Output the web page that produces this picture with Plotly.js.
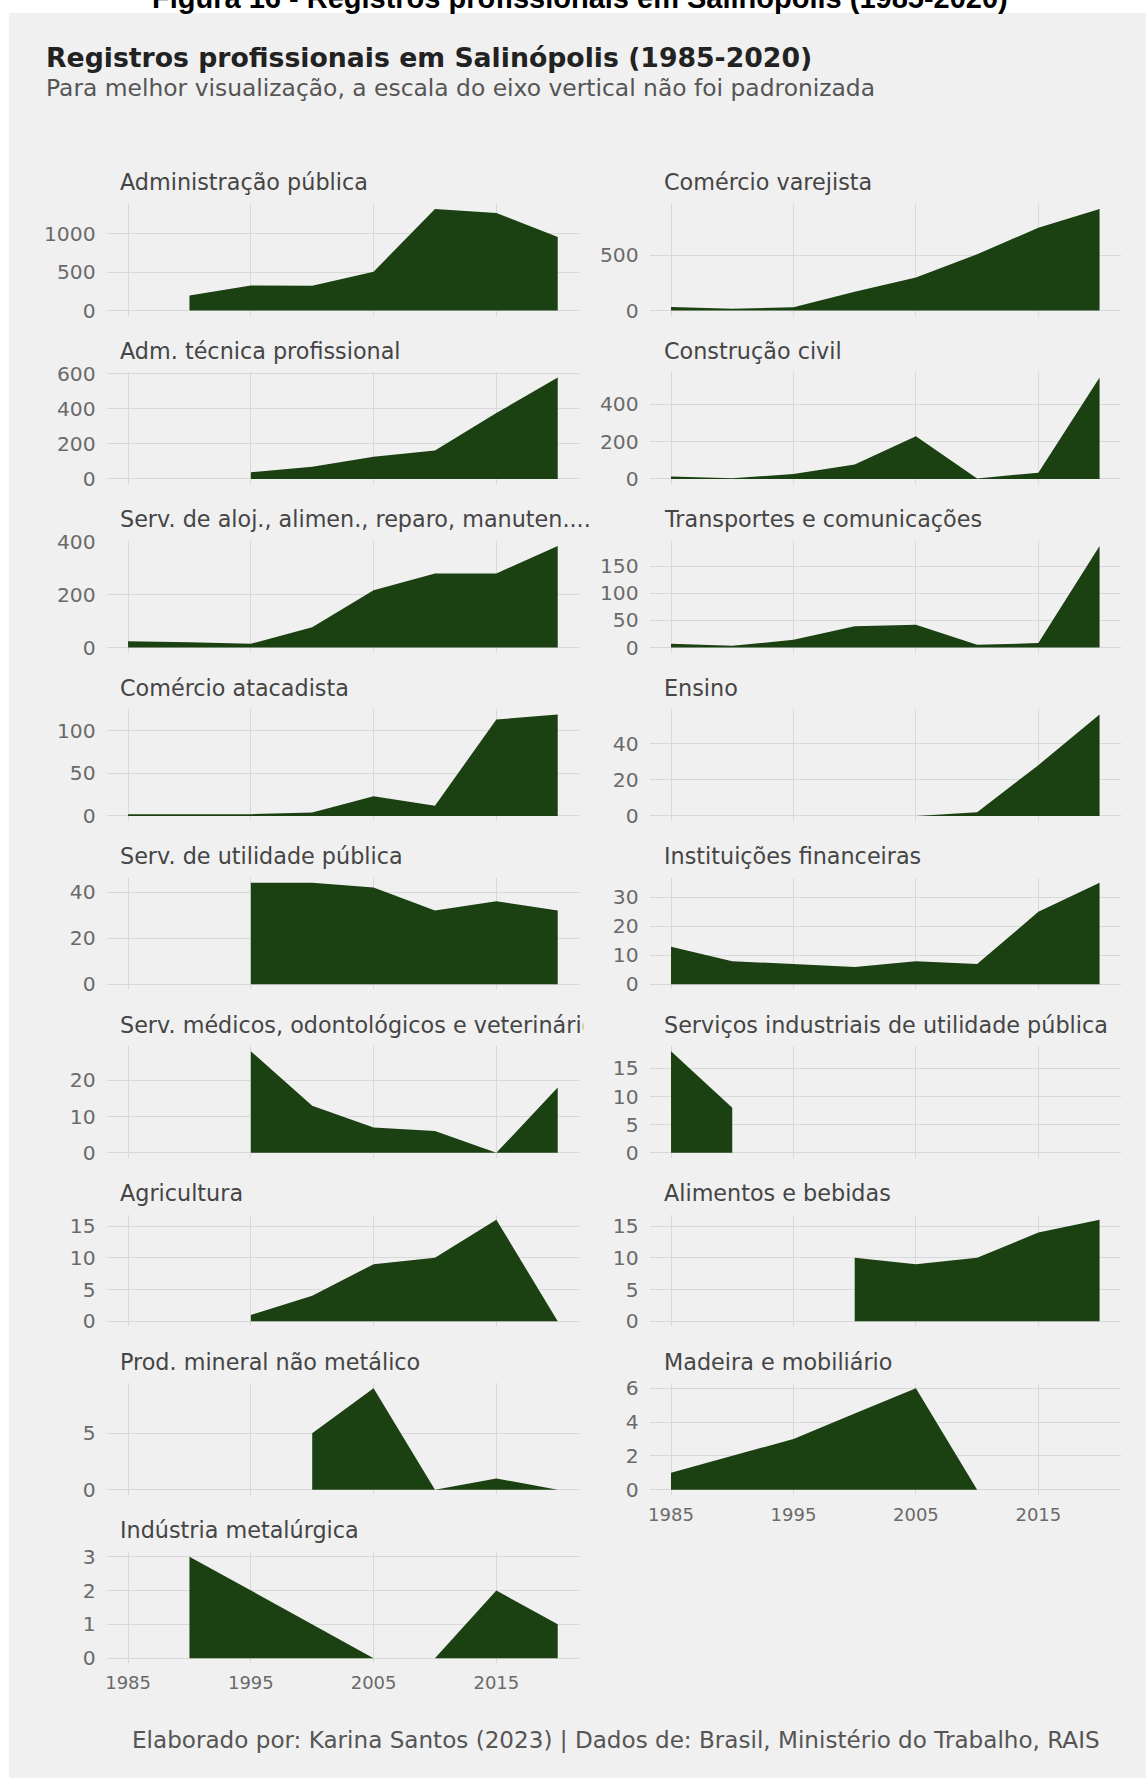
<!DOCTYPE html>
<html><head><meta charset="utf-8">
<script src="https://cdn.plot.ly/plotly-3.0.1.min.js"></script>
<style>html,body{margin:0;padding:0;background:#fff;}</style>
</head><body><div id="chart" style="width:1146px;height:1778px;"></div>
<script>
// ---------------- DATA ----------------
const years = [1985, 1990, 1995, 2000, 2005, 2010, 2015, 2020];
const xTickYears = [1985, 1995, 2005, 2015];

const sectorNames = [
  "Administração pública",
  "Comércio varejista",
  "Adm. técnica profissional",
  "Construção civil",
  "Serv. de aloj., alimen., reparo, manuten....",
  "Transportes e comunicações",
  "Comércio atacadista",
  "Ensino",
  "Serv. de utilidade pública",
  "Instituições financeiras",
  "Serv. médicos, odontológicos e veterinários",
  "Serviços industriais de utilidade pública",
  "Agricultura",
  "Alimentos e bebidas",
  "Prod. mineral não metálico",
  "Madeira e mobiliário",
  "Indústria metalúrgica"
];

const administracaoPublica   = [null, 197, 326, 322, 506, 1320, 1270, 957];
const comercioVarejista      = [33, 15, 30, 170, 300, 510, 750, 920];
const admTecnicaProfissional = [null, null, 38, 70, 126, 162, 375, 577];
const construcaoCivil        = [13, 4, 27, 77, 229, 3, 34, 544];
const servAlojAlimen         = [23, 20, 14, 76, 216, 280, 280, 384];
const transportesComunic     = [7, 3, 14, 39, 42, 5, 8, 187];
const comercioAtacadista     = [2, 2, 2, 4, 23, 12, 113, 119];
const ensino                 = [null, null, null, null, 0, 2, 28, 56];
const servUtilidadePublica   = [null, null, 44, 44, 42, 32, 36, 32];
const instFinanceiras        = [13, 8, 7, 6, 8, 7, 25, 35];
const servMedicos            = [null, null, 28, 13, 7, 6, 0, 18];
const servIndustriaisUtil    = [18, 8, null, null, null, null, null, null];
const agricultura            = [null, null, 1, 4, 9, 10, 16, 0];
const alimentosBebidas       = [null, null, null, 10, 9, 10, 14, 16];
const prodMineralNaoMet      = [null, null, null, 5, 9, 0, 1, 0];
const madeiraMobiliario      = [1, 2, 3, 4.5, 6, 0, null, null];
const industriaMetalurgica   = [null, 3, 2, 1, 0, 0, 2, 1];

const seriesValues = [
  administracaoPublica, comercioVarejista, admTecnicaProfissional, construcaoCivil,
  servAlojAlimen, transportesComunic, comercioAtacadista, ensino,
  servUtilidadePublica, instFinanceiras, servMedicos, servIndustriaisUtil,
  agricultura, alimentosBebidas, prodMineralNaoMet, madeiraMobiliario,
  industriaMetalurgica
];

const yTickValues = [
  [0, 500, 1000], [0, 500], [0, 200, 400, 600], [0, 200, 400],
  [0, 200, 400], [0, 50, 100, 150], [0, 50, 100], [0, 20, 40],
  [0, 20, 40], [0, 10, 20, 30], [0, 10, 20], [0, 5, 10, 15],
  [0, 5, 10, 15], [0, 5, 10, 15], [0, 5], [0, 2, 4, 6],
  [0, 1, 2, 3]
];

const titleText = "Registros profissionais em Salinópolis (1985-2020)";
const subtitleText = "Para melhor visualização, a escala do eixo vertical não foi padronizada";
const captionText = "Elaborado por: Karina Santos (2023) | Dados de: Brasil, Ministério do Trabalho, RAIS";
const figureText = "Figura 16 - Registros profissionais em Salinópolis (1985-2020)";

// ---------------- LAYOUT ----------------
const W = 1146, H = 1778;
const FONT = "DejaVu Sans, Verdana, sans-serif";
const fillCol = "#1b4012";
const gridCol = "#d8d8d8";
const colX = [[106.6, 579.2], [649.6, 1121]];
const firstTop = 204, rowPitch = 168.45, plotH = 111.6;
const titleX = [118, 662];

const data = [];
const layout = {
  width: W, height: H,
  margin: {l: 0, r: 0, t: 0, b: 0},
  paper_bgcolor: "#ffffff",
  plot_bgcolor: "rgba(0,0,0,0)",
  showlegend: false,
  shapes: [{
    type: "rect", xref: "paper", yref: "paper",
    x0: 9 / W, x1: 1, y0: 0, y1: 1 - 13 / H,
    fillcolor: "#f0f0f0", line: {width: 0}, layer: "below"
  }],
  annotations: []
};

seriesValues.forEach((vals, k) => {
  const n = k + 1;
  const col = k % 2, row = Math.floor(k / 2);
  const top = firstTop + row * rowPitch;
  const xs = [], ys = [];
  vals.forEach((v, i) => { if (v !== null) { xs.push(years[i]); ys.push(v); } });
  const maxV = Math.max(...ys);
  const xa = n === 1 ? "x" : "x" + n;
  const ya = n === 1 ? "y" : "y" + n;
  data.push({
    type: "scatter", mode: "lines", x: xs, y: ys,
    fill: "tozeroy", fillcolor: fillCol,
    line: {width: 0, color: fillCol},
    xaxis: xa, yaxis: ya, hoverinfo: "skip", showlegend: false
  });
  const showX = (k === 15 || k === 16);
  layout[n === 1 ? "xaxis" : "xaxis" + n] = {
    domain: [colX[col][0] / W, colX[col][1] / W],
    range: [1983.25, 2021.75],
    tickvals: xTickYears,
    showticklabels: showX,
    tickfont: {family: FONT, size: 18, color: "#6a6a6a"},
    ticklabelstandoff: 7,
    showgrid: true, gridcolor: gridCol, gridwidth: 1,
    zeroline: false, showline: false, ticks: "",
    anchor: ya, fixedrange: true
  };
  layout[n === 1 ? "yaxis" : "yaxis" + n] = {
    domain: [1 - (top + plotH) / H, 1 - top / H],
    range: [-0.05 * maxV, 1.05 * maxV],
    tickvals: yTickValues[k],
    tickfont: {family: FONT, size: 20.3, color: "#6a6a6a"},
    ticklabelstandoff: 10,
    showgrid: true, gridcolor: gridCol, gridwidth: 1,
    zeroline: false, showline: false, ticks: "",
    anchor: xa, fixedrange: true
  };
  const ann = {
    xref: "paper", yref: "paper",
    x: titleX[col] / W, y: 1 - (top - 21.5) / H,
    xanchor: "left", yanchor: "middle",
    text: sectorNames[k], showarrow: false, align: "left",
    font: {family: FONT, size: 22.3, color: "#454545"}
  };
  if (k === 10) { ann.width = colX[0][1] - titleX[0] + 2; }
  layout.annotations.push(ann);
});

layout.annotations.push({
  xref: "paper", yref: "paper", x: 580 / W, y: 1 - 16 / H,
  xanchor: "center", yanchor: "bottom", showarrow: false,
  text: "<b>" + figureText + "</b>",
  font: {family: "Liberation Sans, Arial, sans-serif", size: 29, color: "#000000"}
});
layout.annotations.push({
  xref: "paper", yref: "paper", x: 44 / W, y: 1 - 57 / H,
  xanchor: "left", yanchor: "middle", showarrow: false,
  text: "<b>" + titleText + "</b>",
  font: {family: FONT, size: 26.7, color: "#222222"}
});
layout.annotations.push({
  xref: "paper", yref: "paper", x: 44 / W, y: 1 - 88 / H,
  xanchor: "left", yanchor: "middle", showarrow: false,
  text: subtitleText,
  font: {family: FONT, size: 23.4, color: "#555555"}
});
layout.annotations.push({
  xref: "paper", yref: "paper", x: 1102 / W, y: 1 - 1740 / H,
  xanchor: "right", yanchor: "middle", showarrow: false,
  text: captionText,
  font: {family: FONT, size: 23.1, color: "#555555"}
});

Plotly.newPlot("chart", data, layout, {staticPlot: true, displayModeBar: false});
</script></body></html>
